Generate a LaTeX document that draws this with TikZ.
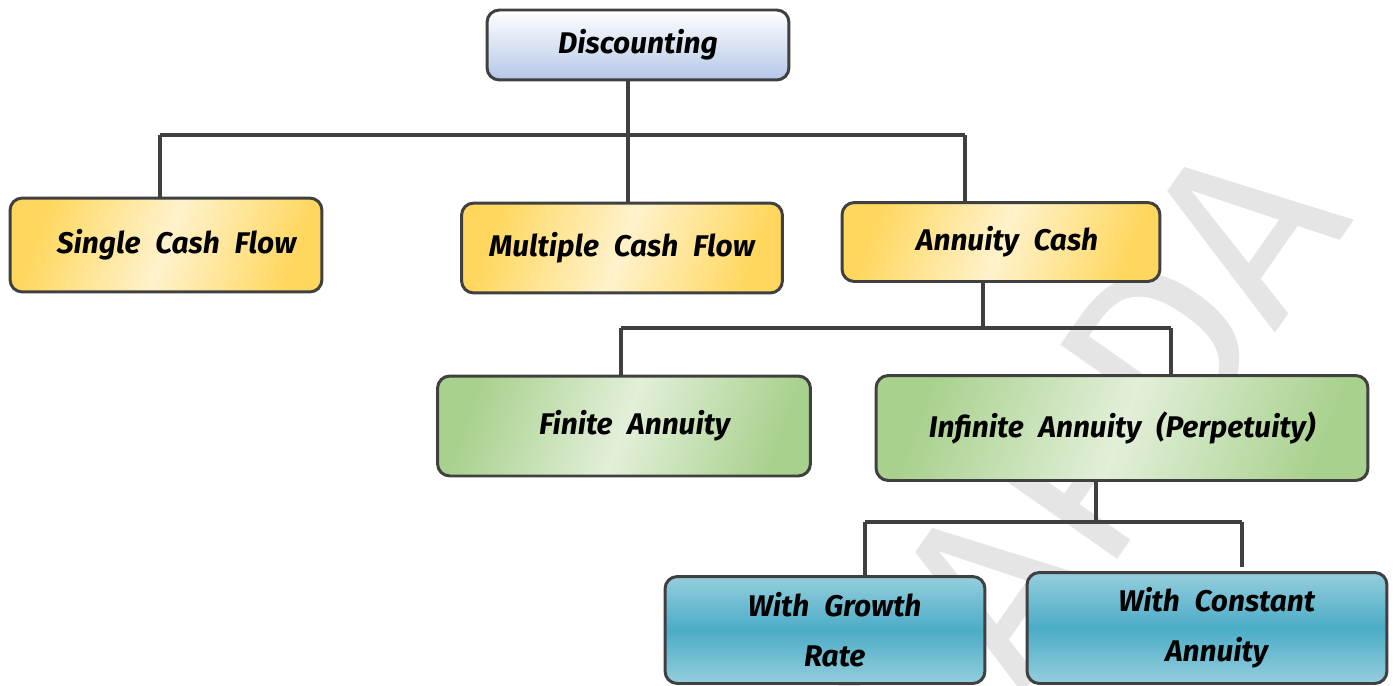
\documentclass[tikz,border=0pt]{standalone}
\usepackage{fontspec}
\setmainfont{Fira Sans}[WordSpace=2.2]
\usetikzlibrary{positioning, calc}
\definecolor{linea}{HTML}{404040}
\definecolor{oro}{HTML}{FFD75E}
\definecolor{crema}{HTML}{FFF2CC}
\definecolor{verde}{HTML}{A9D18E}
\definecolor{verdechiaro}{HTML}{E2EFD9}
\definecolor{azzurro}{HTML}{4BACC6}
\definecolor{azzurrochiaro}{HTML}{95CEDD}
\definecolor{lavanda}{HTML}{B4C7E7}

\begin{document}
\begin{tikzpicture}[x=0.02cm, y=-0.02cm,
	box/.style={draw=linea, line width=1.7pt, rounded corners=7pt, inner sep=0pt, align=center,
		font=\fontsize{17}{28.5}\selectfont\bfseries\itshape},
	giallo/.style={box, left color=oro, right color=oro, middle color=crema, shading angle=70},
	verdino/.style={box, left color=verde, right color=verde, middle color=verdechiaro, shading angle=70},
	blu/.style={box, top color=azzurrochiaro, bottom color=azzurrochiaro, middle color=azzurro},
	conn/.style={draw=linea, line width=2pt}]
					%%% Cornice
					\useasboundingbox (0,0) rectangle (1396,686);
					\node[rotate=55, text=black!10, font=\fontsize{140}{140}\selectfont] (marchio) at (1080,465) {CAPDA};
					
					%%% Caselle
					\node[box, top color=white, bottom color=lavanda, minimum width=6.04cm, minimum height=1.4cm] (disc) at (638,45) {Discounting};
					\node[giallo, minimum width=6.24cm, minimum height=1.88cm] (single) at (166,245) {\hspace*{12pt}\raisebox{4pt}{Single Cash Flow}};
					\node[giallo, minimum width=6.42cm, minimum height=1.8cm] (multi) at (622,248) {Multiple Cash Flow};
					\node[giallo, minimum width=6.36cm, minimum height=1.58cm] (annuity) at (1001,242) {\hspace*{7pt}Annuity Cash};
					\node[verdino, minimum width=7.46cm, minimum height=2cm] (finite) at (624,426) {\hspace*{12pt}\raisebox{2pt}{Finite Annuity}};
					\node[verdino, minimum width=9.84cm, minimum height=2.1cm] (infinite) at (1122,428) {Infinite Annuity (Perpetuity)};
					\node[blu, minimum width=6.4cm, minimum height=2.14cm] (growth) at (825,630) {\hspace*{11pt}With Growth\\\hspace*{11pt}Rate};
					\node[blu, minimum width=7.2cm, minimum height=2.22cm] (constant) at (1207,628) {\hspace*{11pt}With Constant\\\hspace*{11pt}Annuity};
					
					%%% Collegamenti
					\coordinate (b1) at (628,135);
					\coordinate (b1l) at (160,135);
					\coordinate (b1r) at (965,135);
					\draw[conn] (disc.south -| b1) -- (b1);
					\draw[conn] (b1l) -- (b1r);
					\draw[conn] (b1l) -- (b1l |- single.north);
					\draw[conn] (b1) -- (b1 |- multi.north);
					\draw[conn] (b1r) -- (b1r |- annuity.north);
					
					\coordinate (b2) at (983,328);
					\coordinate (b2l) at (621,328);
					\coordinate (b2r) at (1171,328);
					\draw[conn] (annuity.south -| b2) -- (b2);
					\draw[conn] (b2l) -- (b2r);
					\draw[conn] (b2l) -- (b2l |- finite.north);
					\draw[conn] (b2r) -- (b2r |- infinite.north);
					
					\coordinate (b3) at (1096,522);
					\coordinate (b3l) at (865,522);
					\coordinate (b3r) at (1242,522);
					\draw[conn] (infinite.south -| b3) -- (b3);
					\draw[conn] (b3l) -- (b3r);
					\draw[conn] (b3l) -- (b3l |- growth.north);
					\draw[conn] (b3r) -- ($(b3r |- constant.north)+(0,-4)$);
				\end{tikzpicture}
\end{document}
